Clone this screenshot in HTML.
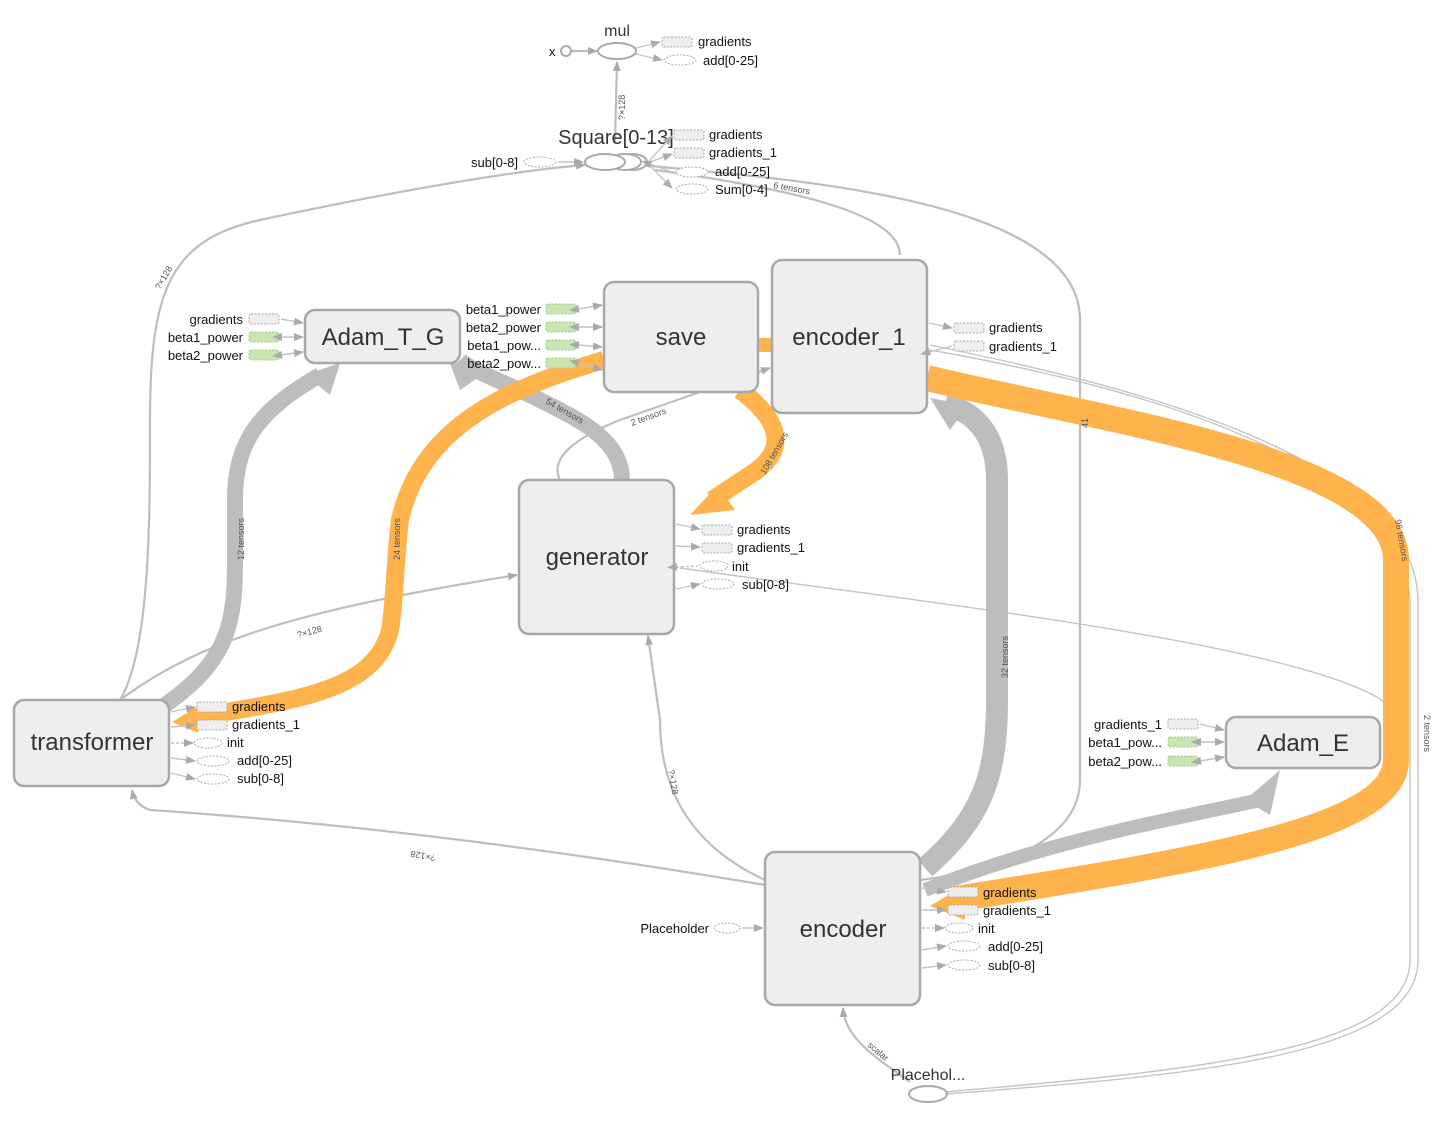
<!DOCTYPE html>
<html><head><meta charset="utf-8"><style>
html,body{margin:0;padding:0;background:#fff;}
svg{display:block;font-family:"Liberation Sans",sans-serif;}
.n{fill:#eee;stroke:#a8a8a8;stroke-width:2.5;}
.nl{font-size:24px;fill:#333;text-anchor:middle;}
.e{fill:none;stroke:#bdbdbd;stroke-width:2.2;}
.e1{fill:none;stroke:#c4c4c4;stroke-width:1.4;}
.g{fill:none;stroke:#bdbdbd;}
.o{fill:none;stroke:#ffb34c;}
.ar{fill:#b0b0b0;}
.t{font-size:13px;fill:#111;}
.s{font-size:9px;fill:#555;}
.dr{fill:#eee;stroke:#aaa;stroke-width:1;stroke-dasharray:2 1.5;}
.gr{fill:#c9e5b0;stroke:#9c9;stroke-width:1;stroke-dasharray:2 1.5;}
.de{fill:#fff;stroke:#aaa;stroke-width:1;stroke-dasharray:2 1.5;}
</style></head><body>
<svg width="1445" height="1125" viewBox="0 0 1445 1125">
<defs>
<marker id="a" markerWidth="10" markerHeight="8" refX="9" refY="4" orient="auto" markerUnits="userSpaceOnUse"><path d="M0,0 L10,4 L0,8 z" fill="#aaa"/></marker>
<marker id="b" markerWidth="10" markerHeight="8" refX="1" refY="4" orient="auto-start-reverse" markerUnits="userSpaceOnUse"><path d="M0,0 L10,4 L0,8 z" fill="#aaa"/></marker>
</defs>

<!-- thin long edges -->
<path class="e" d="M120,700 C150,650 150,520 150,420 C150,290 170,240 260,220 C400,190 520,170 585,165" marker-end="url(#a)"/>
<path class="e" d="M640,165 C800,180 1080,200 1080,320 L1080,780 C1080,840 1000,870 920,880"/>
<path class="e" d="M655,170 C800,190 900,215 900,255"/>
<path class="e1" d="M930,350 C1100,380 1400,450 1410,600 L1410,960 C1410,1050 1200,1070 945,1092"/>
<path class="e1" d="M930,345 C1100,380 1415,450 1418,600 L1418,960 C1418,1055 1200,1075 945,1094"/>
<path class="e1" d="M680,568 C900,600 1380,650 1400,720"/>
<path class="e" d="M120,700 C200,640 300,610 517,575" marker-end="url(#a)"/>
<path class="e" d="M765,885 C500,840 300,820 150,810 Q135,805 132,790" marker-end="url(#a)"/>
<path class="e" d="M765,880 C700,850 660,800 660,720 L648,636" marker-end="url(#a)"/>
<path class="e" d="M910,1082 C880,1060 845,1040 843,1008" marker-end="url(#a)"/>
<path class="e" d="M615,142 L617,62" marker-end="url(#a)"/>
<path class="e" d="M570,51 L597,51" marker-end="url(#a)"/>
<path class="e" d="M560,480 C550,460 570,440 620,420 L700,392"/>
<path class="e" d="M700,392 L770,368" marker-end="url(#a)"/>

<!-- thick gray -->
<path class="g" stroke-width="16" d="M165,705 C230,660 235,620 235,560 L235,500 C235,440 260,410 320,375"/>
<polygon points="340,363 330,395 305,375" fill="#bdbdbd"/>
<path class="g" stroke-width="16" d="M622,480 C622,440 580,420 540,400 C500,380 470,370 460,360"/>
<polygon points="448,358 482,375 460,390" fill="#bdbdbd"/>
<path class="g" stroke-width="22" d="M925,868 C980,820 997,780 997,700 L997,480 C997,430 970,410 945,405"/>
<polygon points="930,398 968,405 950,430" fill="#bdbdbd"/>
<path class="g" stroke-width="14" d="M925,890 C1050,840 1170,820 1260,800"/>
<polygon points="1280,770 1270,815 1245,800" fill="#bdbdbd"/>
<!-- thick orange -->
<path class="o" stroke-width="18" d="M604,360 C500,390 420,430 400,520 C395,560 395,600 390,630 C375,690 300,700 190,718"/>
<polygon points="172,722 200,705 198,733" fill="#ffb34c"/>
<path class="o" stroke-width="18" d="M740,390 C780,420 790,450 750,475 L712,500"/>
<polygon points="690,515 718,485 735,510" fill="#ffb34c"/>
<path class="o" stroke-width="14" d="M758,345 L772,345"/>
<path class="o" stroke-width="26" d="M927,378 C1100,420 1396,460 1396,560 L1396,760 C1396,830 1200,860 950,900"/>
<polygon points="930,906 965,885 965,920" fill="#ffb34c"/>

<!-- edge labels -->
<text class="s" transform="translate(244,560) rotate(-90)">12 tensors</text>
<text class="s" transform="translate(400,560) rotate(-90)">24 tensors</text>
<text class="s" transform="translate(545,403) rotate(30)">54 tensors</text>
<text class="s" transform="translate(632,426) rotate(-20)">2 tensors</text>
<text class="s" transform="translate(765,475) rotate(-60)">108 tensors</text>
<text class="s" transform="translate(1008,678) rotate(-90)">32 tensors</text>
<text class="s" transform="translate(1395,520) rotate(80)">96 tensors</text>
<text class="s" transform="translate(1424,715) rotate(90)">2 tensors</text>
<text class="s" transform="translate(1088,428) rotate(-90)">41</text>
<text class="s" transform="translate(773,188) rotate(10)">6 tensors</text>
<text class="s" transform="translate(298,638) rotate(-15)">?×128</text>
<text class="s" transform="translate(625,120) rotate(-90)">?×128</text>
<text class="s" transform="translate(160,290) rotate(-60)">?×128</text>
<text class="s" transform="translate(668,770) rotate(80)">?×128</text>
<text class="s" transform="translate(436,855) rotate(190)">?×128</text>
<text class="s" transform="translate(867,1046) rotate(40)">scalar</text>

<!-- main nodes -->
<rect class="n" x="305" y="310" width="155" height="53" rx="10"/><text class="nl" x="383" y="345">Adam_T_G</text>
<rect class="n" x="604" y="282" width="154" height="110" rx="10"/><text class="nl" x="681" y="345">save</text>
<rect class="n" x="772" y="260" width="155" height="153" rx="10"/><text class="nl" x="849" y="345">encoder_1</text>
<rect class="n" x="519" y="480" width="155" height="154" rx="10"/><text class="nl" x="597" y="565">generator</text>
<rect class="n" x="14" y="700" width="155" height="86" rx="10"/><text class="nl" x="92" y="750">transformer</text>
<rect class="n" x="1226" y="717" width="154" height="51" rx="10"/><text class="nl" x="1303" y="751">Adam_E</text>
<rect class="n" x="765" y="852" width="155" height="153" rx="10"/><text class="nl" x="843" y="937">encoder</text>

<!-- small op nodes -->
<circle cx="566" cy="51" r="5" fill="#fff" stroke="#aaa" stroke-width="2"/><text class="t" x="549" y="56">x</text>
<ellipse cx="617" cy="51" rx="19" ry="8" fill="#fff" stroke="#aaa" stroke-width="2"/><text x="617" y="36" font-size="16" fill="#333" text-anchor="middle">mul</text>
<ellipse cx="633" cy="162" rx="14" ry="8" fill="#fff" stroke="#aaa" stroke-width="2"/>
<ellipse cx="625" cy="162" rx="16" ry="8" fill="#fff" stroke="#aaa" stroke-width="2"/>
<ellipse cx="605" cy="162" rx="20" ry="8" fill="#fff" stroke="#aaa" stroke-width="2"/>
<text x="616" y="144" font-size="20" fill="#333" text-anchor="middle">Square[0-13]</text>
<ellipse cx="928" cy="1094" rx="19" ry="8" fill="#fff" stroke="#aaa" stroke-width="2"/>
<text x="928" y="1080" font-size="16" fill="#333" text-anchor="middle">Placehol...</text>

<!-- aux: mul -->
<path class="e1" d="M636,48 L660,42" marker-end="url(#a)"/><path class="e1" d="M636,54 L662,60" marker-end="url(#a)"/>
<rect class="dr" x="662" y="37" width="30" height="10" rx="2"/><text class="t" x="698" y="46">gradients</text>
<ellipse class="de" cx="680" cy="60" rx="16" ry="5"/><text class="t" x="703" y="65">add[0-25]</text>
<!-- aux: square -->
<path class="e1" d="M650,160 L672,136" marker-end="url(#a)"/><path class="e1" d="M650,162 L672,154" marker-end="url(#a)"/>
<path class="e1" d="M650,164 L672,172" marker-start="url(#b)"/><path class="e1" d="M650,166 L672,188" marker-end="url(#a)"/>
<rect class="dr" x="674" y="130" width="30" height="10" rx="2"/><text class="t" x="709" y="139">gradients</text>
<rect class="dr" x="674" y="148" width="30" height="10" rx="2"/><text class="t" x="709" y="157">gradients_1</text>
<ellipse class="de" cx="692" cy="172" rx="16" ry="5"/><text class="t" x="715" y="176">add[0-25]</text>
<ellipse class="de" cx="692" cy="189" rx="16" ry="5"/><text class="t" x="715" y="194">Sum[0-4]</text>
<ellipse class="de" cx="540" cy="162" rx="16" ry="5"/><text class="t" x="518" y="167" text-anchor="end">sub[0-8]</text>
<path class="e1" d="M558,162 L583,162" marker-end="url(#a)"/>

<!-- aux: Adam_T_G -->
<rect class="dr" x="249" y="314" width="30" height="10" rx="2"/><text class="t" x="243" y="324" text-anchor="end">gradients</text>
<rect class="gr" x="249" y="332" width="30" height="10" rx="2"/><text class="t" x="243" y="342" text-anchor="end">beta1_power</text>
<rect class="gr" x="249" y="350" width="30" height="10" rx="2"/><text class="t" x="243" y="360" text-anchor="end">beta2_power</text>
<path class="e1" d="M281,319 L303,323" marker-end="url(#a)"/>
<path class="e1" d="M281,337 L303,337" marker-end="url(#a)" marker-start="url(#b)"/>
<path class="e1" d="M281,355 L303,352" marker-end="url(#a)" marker-start="url(#b)"/>
<!-- aux: save -->
<rect class="gr" x="546" y="304" width="30" height="10" rx="2"/><text class="t" x="541" y="314" text-anchor="end">beta1_power</text>
<rect class="gr" x="546" y="322" width="30" height="10" rx="2"/><text class="t" x="541" y="332" text-anchor="end">beta2_power</text>
<rect class="gr" x="546" y="340" width="30" height="10" rx="2"/><text class="t" x="541" y="350" text-anchor="end">beta1_pow...</text>
<rect class="gr" x="546" y="358" width="30" height="10" rx="2"/><text class="t" x="541" y="368" text-anchor="end">beta2_pow...</text>
<path class="e1" d="M578,309 L602,305" marker-end="url(#a)" marker-start="url(#b)"/>
<path class="e1" d="M578,327 L602,327" marker-end="url(#a)" marker-start="url(#b)"/>
<path class="e1" d="M578,345 L602,347" marker-end="url(#a)" marker-start="url(#b)"/>
<path class="e1" d="M578,363 L602,370" marker-end="url(#a)" marker-start="url(#b)"/>
<!-- aux: encoder_1 -->
<rect class="dr" x="954" y="323" width="30" height="10" rx="2"/><text class="t" x="989" y="332">gradients</text>
<rect class="dr" x="954" y="341" width="30" height="10" rx="2"/><text class="t" x="989" y="351">gradients_1</text>
<path class="e1" d="M929,323 L952,328" marker-end="url(#a)"/>
<path class="e1" d="M929,352 L952,346" marker-start="url(#b)"/>
<!-- aux: generator -->
<path class="e1" d="M676,524 L700,529" marker-end="url(#a)"/><rect class="dr" x="702" y="525" width="30" height="10" rx="2"/><text class="t" x="737" y="534">gradients</text>
<path class="e1" d="M676,546 L700,547" marker-end="url(#a)"/><rect class="dr" x="702" y="543" width="30" height="10" rx="2"/><text class="t" x="737" y="552">gradients_1</text>
<path class="e1" d="M676,567 L698,566" marker-start="url(#b)" stroke-dasharray="3 2"/><ellipse class="de" cx="714" cy="566" rx="14" ry="5"/><text class="t" x="732" y="571">init</text>
<path class="e1" d="M676,589 L700,584" marker-end="url(#a)"/><ellipse class="de" cx="718" cy="584" rx="16" ry="5"/><text class="t" x="742" y="589">sub[0-8]</text>
<!-- aux: transformer -->
<path class="e1" d="M171,712 L195,707" marker-end="url(#a)"/><rect class="dr" x="197" y="702" width="30" height="10" rx="2"/><text class="t" x="232" y="711">gradients</text>
<path class="e1" d="M171,727 L195,725" marker-end="url(#a)"/><rect class="dr" x="197" y="720" width="30" height="10" rx="2"/><text class="t" x="232" y="729">gradients_1</text>
<path class="e1" d="M171,743 L193,743" stroke-dasharray="3 2" marker-end="url(#a)"/><ellipse class="de" cx="208" cy="743" rx="14" ry="5"/><text class="t" x="227" y="747">init</text>
<path class="e1" d="M171,758 L195,761" marker-end="url(#a)"/><ellipse class="de" cx="213" cy="761" rx="16" ry="5"/><text class="t" x="237" y="765">add[0-25]</text>
<path class="e1" d="M171,773 L195,779" marker-end="url(#a)"/><ellipse class="de" cx="213" cy="779" rx="16" ry="5"/><text class="t" x="237" y="783">sub[0-8]</text>
<!-- aux: Adam_E -->
<rect class="dr" x="1168" y="719" width="30" height="10" rx="2"/><text class="t" x="1162" y="729" text-anchor="end">gradients_1</text>
<rect class="gr" x="1168" y="737" width="30" height="10" rx="2"/><text class="t" x="1162" y="747" text-anchor="end">beta1_pow...</text>
<rect class="gr" x="1168" y="756" width="30" height="10" rx="2"/><text class="t" x="1162" y="766" text-anchor="end">beta2_pow...</text>
<path class="e1" d="M1200,724 L1224,730" marker-end="url(#a)"/>
<path class="e1" d="M1200,742 L1224,742" marker-end="url(#a)" marker-start="url(#b)"/>
<path class="e1" d="M1200,761 L1224,757" marker-end="url(#a)" marker-start="url(#b)"/>
<!-- aux: encoder -->
<path class="e1" d="M922,888 L946,892" marker-end="url(#a)"/><rect class="dr" x="948" y="887" width="30" height="10" rx="2"/><text class="t" x="983" y="897">gradients</text>
<path class="e1" d="M922,910 L946,910" marker-end="url(#a)"/><rect class="dr" x="948" y="905" width="30" height="10" rx="2"/><text class="t" x="983" y="915">gradients_1</text>
<path class="e1" d="M922,928 L944,928" stroke-dasharray="3 2" marker-end="url(#a)"/><ellipse class="de" cx="959" cy="928" rx="14" ry="5"/><text class="t" x="978" y="933">init</text>
<path class="e1" d="M922,950 L946,946" marker-end="url(#a)"/><ellipse class="de" cx="964" cy="946" rx="16" ry="5"/><text class="t" x="988" y="951">add[0-25]</text>
<path class="e1" d="M922,968 L946,965" marker-end="url(#a)"/><ellipse class="de" cx="964" cy="965" rx="16" ry="5"/><text class="t" x="988" y="970">sub[0-8]</text>
<ellipse class="de" cx="727" cy="928" rx="13" ry="5"/><text class="t" x="709" y="933" text-anchor="end">Placeholder</text>
<path class="e1" d="M742,928 L763,928" marker-end="url(#a)"/>
</svg>
</body></html>
